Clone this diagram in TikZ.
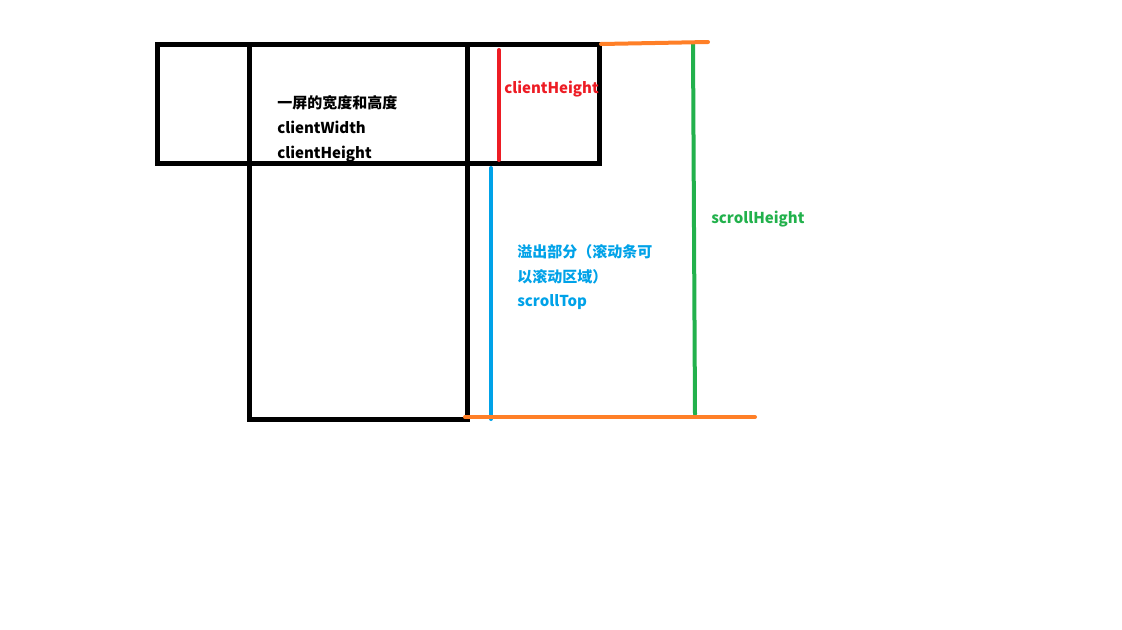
\documentclass[tikz,border=0pt]{standalone}
\usepackage{fontspec}
\newfontfamily\cjk{Noto Sans CJK SC}
\definecolor{cred}{HTML}{ED1C24}
\definecolor{cgreen}{HTML}{22B14C}
\definecolor{cblue}{HTML}{00A2E8}
\definecolor{corange}{HTML}{FF7F27}
\tikzset{
  boxline/.style={draw=black, line width=3.75pt},
  mark line/.style={line width=3pt, line cap=round},
  lbl/.style={inner sep=0pt, anchor=base west, font=\cjk\bfseries\fontsize{11.25pt}{14pt}\selectfont}
}
\begin{document}
\begin{tikzpicture}[x=0.75pt,y=-0.75pt]
\useasboundingbox (0,0) rectangle (1122,629);
% boxes
\draw[boxline] (157,44.5) rectangle (599.5,163.5);
\draw[boxline] (249,44.5) -- (249,419) -- (467,419) -- (467,44.5);
% coordinates
\coordinate (rT) at (499,50);
\coordinate (rB) at (499,160);
\coordinate (bT) at (491,168);
\coordinate (bB) at (491,419);
\coordinate (gT) at (693,43);
\coordinate (gB) at (695,414);
\coordinate (oT1) at (601,44);
\coordinate (oT2) at (655,43);
\coordinate (oT3) at (708,42);
\coordinate (oB1) at (465,417);
\coordinate (oB2) at (755,417);
% colored lines
\draw[mark line, cred] (rT) -- (rB);
\draw[mark line, cblue] (bT) -- (bB);
\draw[mark line, cgreen] (gT) -- (gB);
\draw[mark line, corange] (oT1) -- (oT2) -- (oT3);
\draw[mark line, corange] (oB1) -- (oB2);
% texts
\node[lbl] (t1) at (277,108) {一屏的宽度和高度};
\node[lbl] (t2) at (277,133) {clientWidth};
\node[lbl] (t3) at (277,158) {clientHeight};
\node[lbl, text=cred] (t4) at (504,93.5) {clientHeight};
\node[lbl, text=cgreen] (t5) at (711,223.5) {scrollHeight};
\node[lbl, text=cblue] (t6) at (517,257) {溢出部分（滚动条可};
\node[lbl, text=cblue] (t7) at (517,282) {以滚动区域）};
\node[lbl, text=cblue] (t8) at (517,306.5) {scrollTop};
\end{tikzpicture}
\end{document}
